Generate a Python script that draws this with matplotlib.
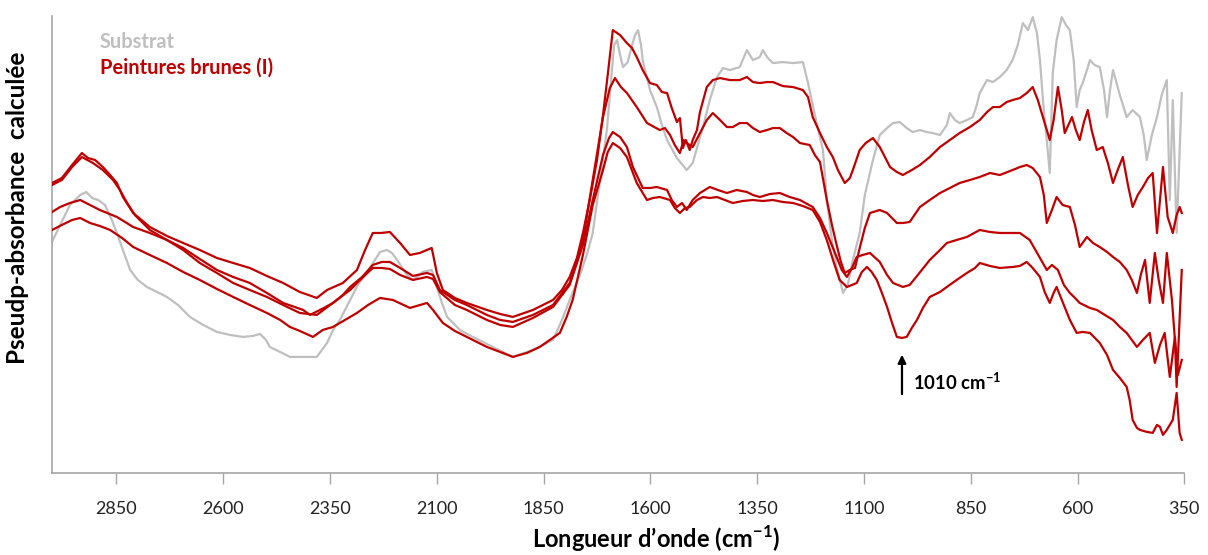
import matplotlib
matplotlib.use("Agg")
import matplotlib.pyplot as plt

plt.rcParams['font.family'] = ['Lato', 'DejaVu Sans']
plt.rcParams['mathtext.fontset'] = 'custom'
plt.rcParams['mathtext.rm'] = 'Lato'
plt.rcParams['mathtext.bf'] = 'Lato:bold'

# wavenumber (cm-1) / pseudo-absorbance (arbitrary units)
substrat_x = [3001, 2982, 2959, 2935, 2921, 2907, 2893, 2877, 2861, 2849, 2835, 2818, 2800, 2779, 2755,
              2732, 2706, 2678, 2647, 2615, 2584, 2554, 2531, 2514, 2500, 2491, 2467, 2444, 2409, 2381,
              2357, 2343, 2327, 2303, 2285, 2264, 2245, 2233, 2217, 2205, 2193, 2170, 2156, 2144, 2133,
              2112, 2100, 2088, 2076, 2046, 2016, 1969, 1922, 1875, 1828, 1807, 1789, 1765, 1749, 1735,
              1718, 1702, 1692, 1685, 1678, 1671, 1664, 1653, 1643, 1636, 1629, 1622, 1618, 1601, 1585,
              1573, 1561, 1538, 1515, 1501, 1489, 1477, 1461, 1444, 1430, 1414, 1391, 1374, 1360, 1344,
              1337, 1325, 1313, 1290, 1266, 1243, 1231, 1215, 1196, 1187, 1175, 1164, 1149, 1138, 1126,
              1110, 1098, 1079, 1063, 1046, 1032, 1016, 1000, 986, 969, 953, 939, 922, 906, 899,
              887, 876, 859, 845, 836, 829, 812, 798, 782, 766, 752, 740, 728, 716, 705,
              695, 688, 681, 672, 665, 658, 649, 637, 627, 618, 609, 602, 595, 588, 578,
              571, 560, 548, 538, 531, 524, 517, 501, 485, 471, 454, 445, 438, 426, 414,
              403, 391, 384, 377, 368, 361, 356]
substrat_y = [231, 248, 268, 278, 281, 275, 273, 268, 253, 240, 223, 203, 193, 186, 181,
              176, 168, 156, 148, 141, 138, 136, 137, 139, 133, 126, 121, 116, 116, 116,
              130, 143, 153, 173, 188, 200, 213, 221, 223, 220, 213, 198, 193, 197, 201,
              203, 186, 170, 156, 143, 136, 126, 116, 123, 133, 153, 173, 198, 218, 240,
              293, 343, 393, 428, 433, 418, 406, 411, 428, 438, 443, 428, 413, 383, 366,
              348, 333, 315, 303, 310, 328, 346, 373, 396, 405, 403, 406, 423, 413, 416,
              423, 415, 410, 411, 410, 411, 390, 358, 323, 273, 233, 206, 180, 188, 213,
              240, 278, 313, 338, 345, 350, 351, 345, 341, 343, 341, 340, 338, 348, 360,
              353, 350, 353, 356, 368, 380, 393, 391, 396, 403, 413, 428, 450, 443, 456,
              440, 413, 373, 333, 300, 400, 433, 456, 448, 443, 413, 366, 383, 390, 403,
              413, 408, 406, 383, 356, 383, 403, 378, 356, 363, 356, 338, 313, 338, 356,
              378, 393, 273, 373, 240, 323, 380]

brune1_x = [3001, 2978, 2954, 2931, 2917, 2900, 2882, 2865, 2849, 2835, 2811, 2772, 2732, 2694, 2655,
            2615, 2577, 2538, 2498, 2460, 2421, 2381, 2357, 2320, 2287, 2268, 2250, 2231, 2210, 2186,
            2163, 2140, 2112, 2100, 2086, 2058, 2030, 1983, 1952, 1922, 1875, 1828, 1807, 1789, 1772,
            1758, 1742, 1725, 1711, 1700, 1688, 1671, 1655, 1643, 1632, 1618, 1601, 1585, 1573, 1561,
            1550, 1538, 1531, 1524, 1517, 1508, 1501, 1491, 1484, 1468, 1454, 1437, 1414, 1391, 1374,
            1360, 1344, 1327, 1313, 1290, 1266, 1243, 1231, 1220, 1203, 1187, 1173, 1161, 1145, 1133,
            1126, 1110, 1096, 1079, 1063, 1039, 1023, 1009, 988, 969, 946, 922, 899, 876, 852,
            829, 812, 798, 782, 766, 752, 735, 719, 705, 693, 681, 665, 656, 646, 637,
            630, 613, 604, 595, 585, 576, 567, 555, 541, 529, 517, 506, 494, 482, 471,
            459, 447, 435, 424, 414, 407, 400, 389, 377, 368, 361, 356]
brune1_y = [290, 295, 308, 320, 315, 313, 306, 298, 290, 276, 260, 246, 237, 230, 223,
            215, 210, 205, 197, 190, 181, 175, 183, 190, 203, 223, 240, 240, 241, 230,
            218, 220, 225, 200, 183, 175, 170, 163, 159, 156, 163, 173, 183, 196, 215,
            240, 273, 313, 358, 398, 443, 438, 430, 425, 416, 403, 390, 388, 381, 380,
            365, 351, 355, 325, 333, 323, 333, 343, 361, 386, 393, 395, 393, 393, 396,
            391, 390, 391, 391, 387, 386, 383, 376, 356, 340, 326, 316, 303, 290, 295,
            303, 323, 330, 335, 326, 306, 301, 298, 303, 308, 316, 326, 333, 340, 346,
            353, 361, 366, 366, 371, 373, 375, 380, 386, 373, 356, 333, 353, 386, 363,
            340, 356, 343, 333, 351, 363, 343, 323, 326, 310, 290, 303, 316, 288, 266,
            278, 286, 295, 300, 240, 273, 306, 256, 240, 258, 266, 260]

brune2_x = [3001, 2978, 2954, 2931, 2905, 2882, 2858, 2842, 2825, 2807, 2772, 2732, 2694, 2655, 2615,
            2577, 2538, 2498, 2460, 2413, 2397, 2369, 2343, 2320, 2303, 2275, 2250, 2229, 2210, 2186,
            2156, 2123, 2109, 2093, 2058, 2030, 1983, 1952, 1922, 1875, 1828, 1789, 1758, 1735, 1711,
            1695, 1683, 1669, 1655, 1632, 1608, 1578, 1566, 1554, 1543, 1531, 1522, 1515, 1501, 1484,
            1468, 1454, 1437, 1421, 1407, 1391, 1374, 1360, 1344, 1327, 1313, 1297, 1281, 1266, 1250,
            1227, 1215, 1203, 1187, 1175, 1164, 1154, 1145, 1133, 1121, 1110, 1098, 1086, 1063, 1046,
            1023, 1009, 993, 969, 946, 922, 899, 876, 852, 829, 805, 782, 752, 735, 719,
            705, 688, 679, 672, 660, 649, 635, 618, 606, 595, 578, 564, 548, 531, 517,
            501, 485, 473, 461, 452, 442, 431, 419, 410, 400, 391, 379, 372, 368, 361,
            356]
brune2_y = [288, 293, 306, 316, 310, 303, 293, 283, 270, 258, 243, 233, 225, 214, 203,
            196, 190, 180, 170, 163, 158, 164, 170, 178, 186, 196, 208, 211, 211, 205,
            197, 200, 198, 183, 173, 168, 158, 153, 151, 158, 168, 190, 233, 293, 356,
            385, 395, 386, 380, 366, 350, 343, 345, 338, 328, 320, 333, 330, 326, 340,
            353, 360, 353, 346, 346, 350, 350, 345, 341, 343, 345, 345, 340, 336, 330,
            328, 318, 311, 273, 248, 228, 211, 200, 203, 205, 225, 245, 260, 263, 260,
            250, 250, 251, 266, 273, 280, 285, 290, 293, 296, 300, 298, 303, 306, 308,
            305, 296, 278, 250, 263, 276, 268, 266, 248, 226, 236, 230, 226, 221, 216,
            211, 203, 193, 180, 198, 213, 170, 220, 193, 170, 220, 173, 133, 86, 153,
            203]

brune3_x = [3001, 2982, 2959, 2935, 2912, 2889, 2849, 2811, 2772, 2732, 2694, 2655, 2615, 2577, 2538,
            2498, 2460, 2421, 2381, 2334, 2303, 2275, 2250, 2229, 2210, 2186, 2156, 2123, 2109, 2093,
            2058, 2030, 1983, 1952, 1922, 1875, 1828, 1789, 1758, 1735, 1711, 1697, 1688, 1671, 1655,
            1641, 1618, 1601, 1585, 1561, 1550, 1538, 1526, 1515, 1501, 1484, 1461, 1442, 1421, 1398,
            1374, 1360, 1344, 1320, 1297, 1274, 1250, 1220, 1203, 1187, 1164, 1152, 1140, 1128, 1117,
            1103, 1086, 1063, 1046, 1032, 1009, 993, 974, 946, 922, 906, 883, 859, 829, 805,
            782, 752, 735, 712, 688, 672, 660, 646, 632, 618, 606, 595, 571, 555, 536,
            517, 501, 485, 473, 461, 447, 431, 419, 407, 396, 384, 372, 365, 356]
brune3_y = [261, 266, 270, 273, 268, 263, 256, 246, 240, 233, 223, 210, 200, 190, 183,
            176, 168, 160, 158, 173, 183, 195, 205, 205, 204, 198, 193, 196, 194, 181,
            168, 163, 153, 148, 146, 155, 166, 188, 228, 273, 318, 335, 341, 336, 326,
            306, 285, 285, 286, 283, 273, 266, 270, 263, 273, 280, 286, 283, 280, 283,
            281, 278, 276, 279, 280, 276, 273, 266, 255, 240, 216, 203, 196, 205, 216,
            218, 220, 211, 198, 190, 186, 188, 198, 213, 223, 230, 233, 236, 243, 241,
            240, 240, 240, 233, 215, 203, 208, 203, 188, 180, 175, 170, 165, 163, 158,
            153, 146, 140, 133, 126, 133, 140, 110, 128, 140, 96, 136, 98, 113]

brune4_x = [3001, 2978, 2954, 2935, 2912, 2889, 2865, 2837, 2811, 2772, 2732, 2694, 2655, 2615, 2577,
            2538, 2498, 2467, 2444, 2421, 2390, 2367, 2343, 2315, 2287, 2261, 2233, 2203, 2163, 2123,
            2109, 2086, 2058, 2030, 1983, 1952, 1922, 1889, 1859, 1812, 1796, 1782, 1758, 1735, 1711,
            1700, 1688, 1671, 1655, 1632, 1608, 1594, 1578, 1554, 1543, 1531, 1519, 1508, 1491, 1477,
            1461, 1444, 1426, 1407, 1384, 1360, 1337, 1313, 1290, 1266, 1243, 1220, 1203, 1187, 1171,
            1157, 1140, 1128, 1117, 1105, 1093, 1082, 1070, 1058, 1046, 1035, 1023, 1011, 1000, 988,
            976, 962, 946, 922, 906, 883, 859, 840, 829, 805, 782, 752, 735, 719, 705,
            688, 677, 665, 656, 649, 635, 618, 602, 588, 571, 548, 531, 517, 501, 485,
            478, 471, 461, 454, 438, 424, 414, 407, 400, 391, 384, 377, 368, 361, 356]
brune4_y = [243, 248, 253, 255, 250, 247, 243, 235, 226, 218, 210, 201, 193, 184, 176,
            168, 160, 153, 146, 142, 136, 143, 146, 153, 160, 168, 175, 173, 165, 170,
            163, 150, 142, 136, 126, 121, 116, 120, 126, 140, 156, 173, 218, 268, 303,
            321, 330, 325, 316, 290, 273, 275, 276, 273, 265, 260, 265, 266, 273, 276,
            275, 276, 273, 270, 272, 273, 272, 273, 271, 270, 267, 263, 251, 233, 211,
            193, 186, 188, 190, 201, 206, 201, 193, 180, 166, 151, 136, 135, 136, 145,
            153, 165, 176, 181, 186, 193, 200, 205, 210, 207, 205, 206, 207, 211, 205,
            196, 181, 170, 180, 186, 171, 153, 140, 141, 140, 130, 118, 103, 95, 86,
            73, 53, 45, 43, 41, 40, 48, 46, 38, 43, 48, 53, 80, 40, 33]

xticks = [2850, 2600, 2350, 2100, 1850, 1600, 1350, 1100, 850, 600, 350]

red = '#C00000'
grey = '#BFBFBF'

fig = plt.figure(figsize=(12.08, 5.55), dpi=100)
ax = fig.add_axes([0.0434, 0.148, 0.937, 0.823])

ax.plot(substrat_x, substrat_y, color=grey, lw=1.6, zorder=2)
for xs, ys in [(brune1_x, brune1_y), (brune2_x, brune2_y), (brune3_x, brune3_y), (brune4_x, brune4_y)]:
    ax.plot(xs, ys, color=red, lw=1.6, zorder=3)

ax.set_xlim(3000, 350)
ax.set_ylim(0, 457)
ax.set_xticks(xticks)
ax.set_yticks([])
ax.tick_params(axis='x', direction='out', length=8, width=1, color='#A6A6A6',
               labelsize=13, pad=12, labelcolor='#222222')
for s in ['top', 'right']:
    ax.spines[s].set_visible(False)
for s in ['left', 'bottom']:
    ax.spines[s].set_color('#A6A6A6')
    ax.spines[s].set_linewidth(1.2)

ax.set_xlabel(r"Longueur d’onde (cm$^{\mathbf{-1}}$)", fontsize=17, fontweight='bold')
ax.xaxis.set_label_coords(0.533, -0.11)
ax.set_ylabel("Pseudp-absorbance  calculée", fontsize=17.5, fontweight='bold')
ax.yaxis.set_label_coords(-0.021, 0.58)

ax.text(0.042, 0.943, "Substrat", transform=ax.transAxes, color=grey, fontsize=14.4,
        fontweight='bold', va='center', ha='left')
ax.text(0.042, 0.886, "Peintures brunes (I)", transform=ax.transAxes, color=red, fontsize=14.4,
        fontweight='bold', va='center', ha='left')

ax.annotate("", xy=(1011, 121), xytext=(1011, 76),
            arrowprops=dict(arrowstyle='-|>', color='black', lw=1.6, mutation_scale=12))
ax.text(986, 91, r"1010 cm$^{\mathbf{-1}}$", fontsize=13.3, fontweight='bold', va='center', ha='left')

fig.savefig("out.png", dpi=100)
